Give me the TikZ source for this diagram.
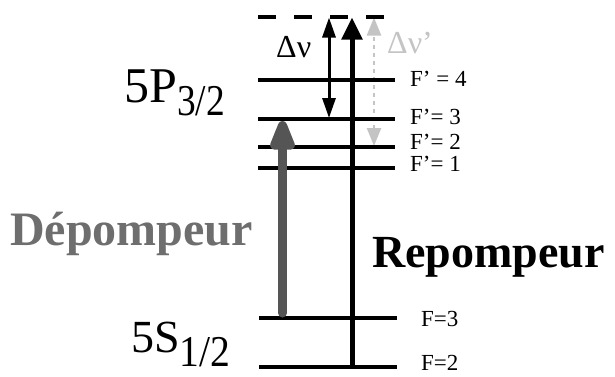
\documentclass[tikz,border=0pt]{standalone}
\usepackage{fontspec}
\usepackage{graphicx}
\setmainfont{Liberation Serif}
\usetikzlibrary{arrows.meta}
\definecolor{depgrey}{HTML}{555555}
\definecolor{deptext}{HTML}{6E6E6E}
\definecolor{lightgr}{HTML}{C4C4C4}
\tikzset{
  level/.style={line width=4pt, black},
  toplevel/.style={line width=4pt, black, dash pattern=on 18pt off 18pt},
  lab/.style={anchor=base west, inner sep=0pt, font=\fontsize{23}{23}\selectfont},
  big/.style={anchor=base west, inner sep=0pt, font=\fontsize{50}{50}\selectfont},
  delta/.style={anchor=base west, inner sep=0pt, font=\fontsize{32}{32}\selectfont},
  repump/.style={line width=5pt, black, -{Triangle[width=20pt,length=22pt]}},
  dnu/.style={line width=3pt, black, {Triangle[width=13pt,length=20pt]}-{Triangle[width=13pt,length=20pt]}},
  dnup/.style={line width=2.5pt, lightgr, dash pattern=on 4pt off 4pt, {Triangle[width=14pt,length=18pt]}-{Triangle[width=14pt,length=18pt]}},
  depump/.style={line width=9pt, depgrey, line cap=round, -{Triangle[width=26pt,length=38pt,round=false]}}
}
\begin{document}
\begin{tikzpicture}[x=1pt,y=-1pt]
\useasboundingbox (0,0) rectangle (615,376);
% level end points
\coordinate (t0) at (258,16.5); \coordinate (t1) at (384,16.5);
\coordinate (a0) at (258,80);   \coordinate (a1) at (395,80);
\coordinate (b0) at (258,119);  \coordinate (b1) at (395,119);
\coordinate (c0) at (258,147);  \coordinate (c1) at (395,147);
\coordinate (d0) at (258,168);  \coordinate (d1) at (395,168);
\coordinate (e0) at (259,318);  \coordinate (e1) at (397,318);
\coordinate (f0) at (259,367);  \coordinate (f1) at (397,367);
% arrow end points
\coordinate (gpTop) at (374,17.5);  \coordinate (gpBot) at (374,146);
\coordinate (dnTop) at (329,17.5);  \coordinate (dnBot) at (329,118);
\coordinate (rpTop) at (352,17.5);  \coordinate (rpBot) at (352,367);
\coordinate (dpTop) at (282.5,121); \coordinate (dpBot) at (282.5,313);
% light grey dashed double arrow (below levels)
\draw[dnup] (gpBot) -- (gpTop);
% levels
\draw[toplevel] (t0) -- (t1);
\draw[level] (a0) -- (a1);
\draw[level] (b0) -- (b1);
\draw[level] (c0) -- (c1);
\draw[level] (d0) -- (d1);
\draw[level] (e0) -- (e1);
\draw[level] (f0) -- (f1);
% black arrows
\draw[dnu] (dnBot) -- (dnTop);
\draw[repump] (rpBot) -- (rpTop);
% grey depump arrow
\draw[depump] (dpBot) -- (dpTop);
% labels
\node[big] (p32) at (124,102) {5P\raisebox{-13pt}{\fontsize{44}{44}\selectfont\scalebox{0.85}[1]{3/2}}};
\node[big, font=\fontsize{46}{46}\selectfont] (s12) at (131,352) {5S\raisebox{-14pt}{\fontsize{44}{44}\selectfont\scalebox{0.9}[1]{1/2}}};
\node[anchor=base west, inner sep=0pt, text=deptext, font=\fontsize{48}{48}\selectfont\bfseries] (dep) at (10,245) {Dépompeur};
\node[anchor=base west, inner sep=0pt, font=\fontsize{46}{46}\selectfont\bfseries] (rep) at (372,267) {Repompeur};
\node[delta] (dn) at (276,57) {Δν};
\node[delta, text=lightgr] (dnp) at (387,53) {Δν’};
\node[lab] (la) at (410,86) {F’ = 4};
\node[lab] (lb) at (410,124) {F’= 3};
\node[lab] (lc) at (410,149) {F’= 2};
\node[lab] (ld) at (410,171) {F’= 1};
\node[lab] (le) at (421,326) {F=3};
\node[lab] (lf) at (421,370) {F=2};
\end{tikzpicture}
\end{document}
